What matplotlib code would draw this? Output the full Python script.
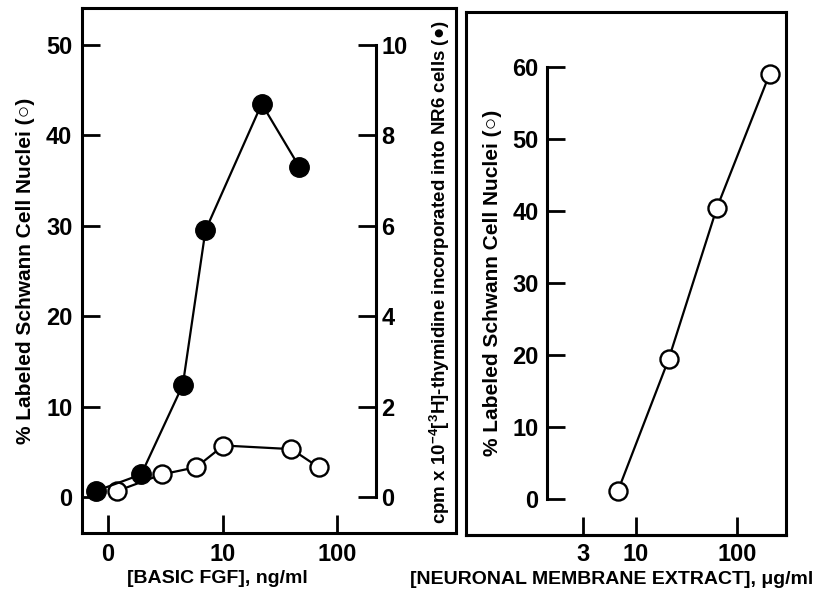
import matplotlib
matplotlib.use("Agg")
import matplotlib.pyplot as plt

# left panel: basic FGF (the "0" control sits at the position of 1 ng/ml)
fgf_ticks = [1, 10, 100]
fgf_tick_labels = ["0", "10", "100"]
nr6_fgf = [0.78, 1.95, 4.5, 7.1, 22, 47]
nr6_cpm = [0.13, 0.5, 2.48, 5.9, 8.7, 7.3]
schwann_fgf = [1.2, 2.95, 5.9, 10.2, 40, 69]
schwann_pct = [0.66, 2.5, 3.3, 5.7, 5.3, 3.3]
left_yticks = [0, 10, 20, 30, 40, 50]
cpm_yticks = [0, 2, 4, 6, 8, 10]

# right panel: neuronal membrane extract
extract_ticks = [3, 10, 100]
extract_conc = [6.6, 21, 63, 210]
extract_pct = [1.1, 19.4, 40.4, 59]
right_yticks = [0, 10, 20, 30, 40, 50, 60]

plt.rcParams["font.family"] = ["Liberation Sans", "DejaVu Sans"]
plt.rcParams["font.weight"] = "bold"
plt.rcParams["mathtext.default"] = "regular"

LW = 2.2
TICK = dict(direction="in", length=13, width=2.0, labelsize=17)

fig = plt.figure(figsize=(8.17, 5.98), dpi=100)

# ---- left panel
ax1 = fig.add_axes([0.1004, 0.1087, 0.4578, 0.8779])
for s in ax1.spines.values():
    s.set_linewidth(LW)
ax1.set_xscale("log")
ax1.set_xlim(0.593, 1096)
ax1.set_ylim(-3.98, 54.1)
ax1.set_xticks(fgf_ticks)
ax1.set_xticklabels(fgf_tick_labels)
ax1.xaxis.set_minor_locator(plt.NullLocator())
ax1.set_yticks(left_yticks)
ax1.tick_params(axis="both", pad=7, **TICK)
ax1.tick_params(top=False, right=False)

ax2 = ax1.twinx()
ax2.set_ylim(-3.98 / 5, 54.1 / 5)
for k in ["top", "bottom", "left"]:
    ax2.spines[k].set_visible(False)
ax2.spines["right"].set_position(("axes", 0.786))
ax2.spines["right"].set_bounds(0, 10)
ax2.spines["right"].set_linewidth(LW)
ax2.set_yticks(cpm_yticks)
ax2.tick_params(axis="y", pad=4, **TICK)

ax1.plot(schwann_fgf, schwann_pct, "-o", color="black", lw=1.6,
         mfc="white", mec="black", mew=1.7, ms=13, zorder=3)
ax2.plot(nr6_fgf, nr6_cpm, "-o", color="black", lw=1.6,
         mfc="black", mec="black", ms=14, zorder=4)

ax1.text(-0.152, 0.5, "% Labeled Schwann Cell Nuclei (○)", transform=ax1.transAxes,
         rotation=90, ha="center", va="center", fontsize=15)
ax1.text(0.957, 0.497, "cpm x 10$^{-4}$[$^{3}$H]-thymidine incorporated into NR6 cells (●)",
         transform=ax1.transAxes, rotation=90, ha="center", va="center", fontsize=13.5)
ax1.text(0.363, -0.07, "[BASIC FGF], ng/ml", transform=ax1.transAxes,
         ha="center", va="top", fontsize=14)

# ---- right panel
frame = fig.add_axes([0.5704, 0.1054, 0.3917, 0.8746])
frame.set_xticks([])
frame.set_yticks([])
for s in frame.spines.values():
    s.set_linewidth(LW)

ax3 = fig.add_axes([0.5704, 0.1054, 0.3917, 0.8746], facecolor="none")
ax3.set_xscale("log")
ax3.set_xlim(0.207, 305)
ax3.set_ylim(-5.0, 67.6)
for k in ["top", "right"]:
    ax3.spines[k].set_visible(False)
ax3.spines["bottom"].set_linewidth(LW)
ax3.spines["left"].set_position(("axes", 0.253))
ax3.spines["left"].set_bounds(0, 60)
ax3.spines["left"].set_linewidth(LW)
ax3.set_xticks(extract_ticks)
ax3.set_xticklabels([str(t) for t in extract_ticks])
ax3.xaxis.set_minor_locator(plt.NullLocator())
ax3.set_yticks(right_yticks)
ax3.tick_params(axis="both", pad=6, **TICK)
ax3.tick_params(top=False, right=False)

ax3.plot(extract_conc, extract_pct, "-o", color="black", lw=1.6,
         mfc="white", mec="black", mew=1.7, ms=13, zorder=3, clip_on=False)

ax3.text(0.084, 0.482, "% Labeled Schwann Cell Nuclei (○)", transform=ax3.transAxes,
         rotation=90, ha="center", va="center", fontsize=15)
ax3.text(0.455, -0.068, "[NEURONAL MEMBRANE EXTRACT], μg/ml", transform=ax3.transAxes,
         ha="center", va="top", fontsize=14)

fig.savefig("out.png", dpi=100)
